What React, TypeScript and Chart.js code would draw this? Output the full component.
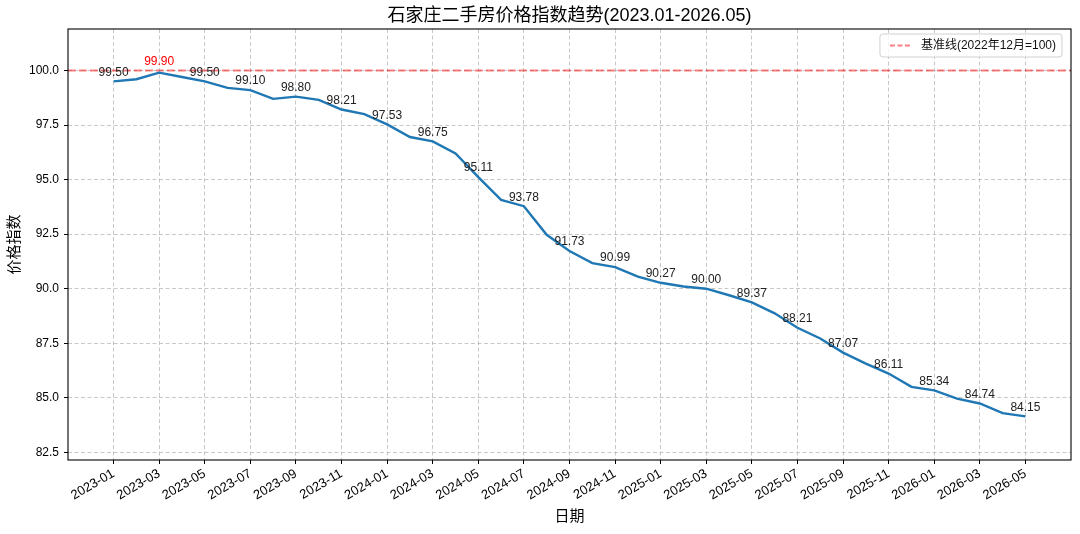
import { useEffect, useRef } from "react";
import Chart from "chart.js/auto";
import type { ChartConfiguration, Plugin } from "chart.js/auto";

const months = [
  "2023-01", "2023-02", "2023-03", "2023-04", "2023-05", "2023-06", "2023-07", "2023-08", "2023-09", "2023-10", "2023-11", "2023-12",
  "2024-01", "2024-02", "2024-03", "2024-04", "2024-05", "2024-06", "2024-07", "2024-08", "2024-09", "2024-10", "2024-11", "2024-12",
  "2025-01", "2025-02", "2025-03", "2025-04", "2025-05", "2025-06", "2025-07", "2025-08", "2025-09", "2025-10", "2025-11", "2025-12",
  "2026-01", "2026-02", "2026-03", "2026-04", "2026-05",
];

const priceIndex = [
  99.5, 99.6, 99.9, 99.7, 99.5, 99.2, 99.1, 98.7, 98.8, 98.65, 98.21, 98.0,
  97.53, 96.95, 96.75, 96.2, 95.11, 94.07, 93.78, 92.47, 91.73, 91.17, 90.99, 90.55,
  90.27, 90.1, 90.0, 89.7, 89.37, 88.87, 88.21, 87.72, 87.07, 86.57, 86.11, 85.5,
  85.34, 84.96, 84.74, 84.3, 84.15,
];

// every other month gets a tick and a value label
const tickIdx = [0, 2, 4, 6, 8, 10, 12, 14, 16, 18, 20, 22, 24, 26, 28, 30, 32, 34, 36, 38, 40];
const yTicks = [82.5, 85, 87.5, 90, 92.5, 95, 97.5, 100];

const BASELINE = 100;
const baselineLabel = "基准线(2022年12月=100)";
const title = "石家庄二手房价格指数趋势(2023.01-2026.05)";
const xTitle = "日期";
const yTitle = "价格指数";

const X_MIN = -2;
const X_MAX = 42;
const Y_MIN = 82.15;
const Y_MAX = 101.9;

const FONT = '"Liberation Sans", "Noto Sans CJK SC", sans-serif';
const GRID = "rgba(176,176,176,0.7)";
const BASE_RED = "rgba(255,0,0,0.5)";

const overlay: Plugin<"line"> = {
  id: "overlay",
  afterDatasetsDraw(chart) {
    const { ctx, chartArea: a } = chart;
    ctx.save();

    // axes frame (all four spines)
    ctx.strokeStyle = "#000";
    ctx.lineWidth = 1.1;
    ctx.strokeRect(a.left, a.top, a.right - a.left, a.bottom - a.top);

    // value labels
    const meta = chart.getDatasetMeta(0);
    const maxIdx = priceIndex.indexOf(Math.max(...priceIndex));
    ctx.font = `12px ${FONT}`;
    ctx.textAlign = "center";
    ctx.textBaseline = "middle";
    for (const i of tickIdx) {
      const p = meta.data[i];
      if (!p) continue;
      ctx.fillStyle = i === maxIdx ? "red" : "#222";
      ctx.fillText(priceIndex[i].toFixed(2), p.x, p.y - (i === maxIdx ? 11 : 9));
    }

    // legend
    ctx.font = `12px ${FONT}`;
    const tw = ctx.measureText(baselineLabel).width;
    const right = a.right - 9;
    const w = 10 + 20 + 11 + tw + 6;
    const left = right - w;
    const top = a.top + 5;
    const h = 23;
    ctx.beginPath();
    ctx.roundRect(left, top, w, h, 3);
    ctx.fillStyle = "rgba(255,255,255,0.8)";
    ctx.fill();
    ctx.strokeStyle = "#d0d0d0";
    ctx.lineWidth = 1;
    ctx.stroke();
    const cy = top + h / 2;
    ctx.beginPath();
    ctx.setLineDash([5, 2.5]);
    ctx.strokeStyle = BASE_RED;
    ctx.lineWidth = 2;
    ctx.moveTo(left + 10, cy);
    ctx.lineTo(left + 30, cy);
    ctx.stroke();
    ctx.setLineDash([]);
    ctx.fillStyle = "#111";
    ctx.textAlign = "left";
    ctx.fillText(baselineLabel, left + 41, cy + 0.5);

    ctx.restore();
  },
  afterDraw(chart) {
    const { ctx, chartArea: a } = chart;
    ctx.save();
    ctx.fillStyle = "#000";
    ctx.textAlign = "center";
    ctx.textBaseline = "middle";
    ctx.font = `18px ${FONT}`;
    ctx.fillText(title, (a.left + a.right) / 2, 16.5);
    ctx.font = `15px ${FONT}`;
    ctx.fillText(xTitle, (a.left + a.right) / 2, 517);
    ctx.translate(15, (a.top + a.bottom) / 2);
    ctx.rotate(-Math.PI / 2);
    ctx.fillText(yTitle, 0, 0);
    ctx.restore();
  },
};

const App = () => {
  const canvasRef = useRef<HTMLCanvasElement | null>(null);

  useEffect(() => {
    document.body.style.margin = "0";
    const ctx = canvasRef.current?.getContext("2d");
    if (!ctx) return;

    const config: ChartConfiguration<"line"> = {
      type: "line",
      data: {
        datasets: [
          {
            label: yTitle,
            data: priceIndex.map((v, i) => ({ x: i, y: v })),
            borderColor: "#1f77b4",
            borderWidth: 2.4,
            pointRadius: 0,
            tension: 0,
            fill: false,
          },
          {
            label: baselineLabel,
            data: [
              { x: X_MIN, y: BASELINE },
              { x: X_MAX, y: BASELINE },
            ],
            borderColor: BASE_RED,
            borderWidth: 2,
            borderDash: [7.7, 3.3],
            pointRadius: 0,
            fill: false,
          },
        ],
      },
      options: {
        animation: false,
        responsive: true,
        maintainAspectRatio: false,
        layout: { padding: { top: 29, right: 9, left: 0, bottom: 0 } },
        plugins: {
          legend: { display: false },
          title: { display: false },
          tooltip: { enabled: false },
        },
        scales: {
          x: {
            type: "linear",
            min: X_MIN,
            max: X_MAX,
            afterBuildTicks: (scale) => {
              scale.ticks = tickIdx.map((v) => ({ value: v }));
            },
            afterFit: (scale) => {
              scale.height = 74;
            },
            ticks: {
              callback: (value) => months[Number(value)] ?? "",
              minRotation: 30,
              maxRotation: 30,
              autoSkip: false,
              padding: 2,
              color: "#000",
              font: { family: FONT, size: 13 },
            },
            grid: {
              color: GRID,
              lineWidth: 1,
              drawTicks: true,
              tickLength: 4,
              tickColor: "#000",
              tickWidth: 1,
            },
            border: { display: false, dash: [4, 2.5] },
          },
          y: {
            min: Y_MIN,
            max: Y_MAX,
            afterBuildTicks: (scale) => {
              scale.ticks = yTicks.map((v) => ({ value: v }));
            },
            afterFit: (scale) => {
              scale.width = 68;
            },
            ticks: {
              callback: (value) => Number(value).toFixed(1),
              padding: 5,
              color: "#000",
              font: { family: FONT, size: 12 },
            },
            grid: {
              color: GRID,
              lineWidth: 1,
              drawTicks: true,
              tickLength: 4,
              tickColor: "#000",
              tickWidth: 1,
            },
            border: { display: false, dash: [4, 2.5] },
          },
        },
      },
      plugins: [overlay],
    };

    const chart = new Chart(ctx, config);
    return () => {
      chart.destroy();
    };
  }, []);

  return (
    <div style={{ position: "relative", width: 1080, height: 534 }}>
      <canvas ref={canvasRef} />
    </div>
  );
};

export default App;
